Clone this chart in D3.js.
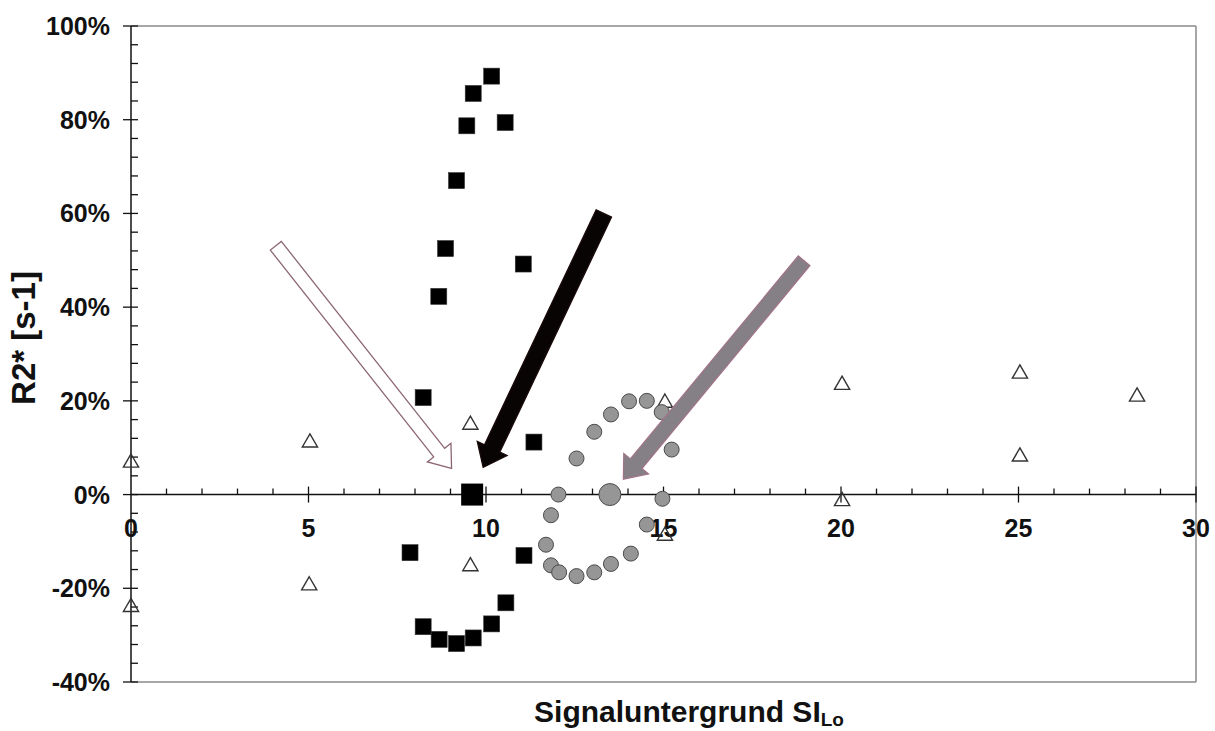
<!DOCTYPE html>
<html><head><meta charset="utf-8">
<script src="https://cdn.jsdelivr.net/npm/d3@7/dist/d3.min.js"></script>
<style>
body{margin:0;background:#fff;}
text{font-family:"Liberation Sans",Arial,sans-serif;font-weight:bold;fill:#111;}
</style></head>
<body><svg id="c" width="1215" height="731"></svg>
<script>
// ---- data ----
const triX = [0, 0, 5.04, 5.02, 9.56, 9.56, 15.04, 15.04, 20.03, 20.03, 25.04, 25.04, 28.34];
const triY = [7.0, -23.8, 11.3, -19.2, 15.1, -15.1, 19.8, -8.6, 23.6, -1.2, 26.0, 8.3, 21.1];

const sqX = [8.23, 8.67, 8.86, 9.17, 9.46, 9.64, 10.16, 10.54, 11.05, 11.35, 7.86, 8.23, 8.68, 9.17, 9.64, 10.16, 10.56, 11.07];
const sqY = [20.7, 42.3, 52.5, 67.0, 78.7, 85.6, 89.3, 79.4, 49.2, 11.2, -12.4, -28.2, -30.9, -31.8, -30.6, -27.6, -23.1, -13.0];
const sqBig = [9.61, 0];

const ciX = [12.04, 11.83, 11.69, 11.83, 12.06, 12.55, 13.05, 13.52, 14.08, 14.53, 14.97, 12.55, 13.05, 13.52, 14.03, 14.53, 14.95, 15.23];
const ciY = [0, -4.4, -10.7, -15.1, -16.6, -17.4, -16.6, -14.8, -12.6, -6.4, -0.9, 7.7, 13.4, 17.1, 19.9, 20.0, 17.6, 9.6];
const ciBig = [13.49, 0];

// arrows: tail (x,y) -> tip (x,y) in data units
const arrowTail = [[4.08, 53.1], [13.32, 60.0], [18.96, 49.9]];
const arrowTip  = [[9.03, 5.6], [9.92, 5.8], [13.87, 3.3]];

const xTicks = [0, 5, 10, 15, 20, 25, 30];
const yTicks = [-40, -20, 0, 20, 40, 60, 80, 100];

// ---- layout ----
const svg = d3.select("#c");
const x = d3.scaleLinear().domain([0, 30]).range([131, 1196]);
const y = d3.scaleLinear().domain([-40, 100]).range([682, 26]);

// frame
svg.append("line").attr("x1", x(0)).attr("x2", x(30)).attr("y1", y(100)).attr("y2", y(100)).attr("stroke", "#8a8a8a").attr("stroke-width", 1.5);
svg.append("line").attr("x1", x(30)).attr("x2", x(30)).attr("y1", y(100)).attr("y2", y(-40)).attr("stroke", "#8a8a8a").attr("stroke-width", 1.5);
svg.append("line").attr("x1", x(0)).attr("x2", x(30)).attr("y1", y(-40)).attr("y2", y(-40)).attr("stroke", "#8a8a8a").attr("stroke-width", 1.5);

// y axis
const gy = svg.append("g").attr("transform", `translate(${x(0)},0)`);
gy.append("line").attr("y1", y(-40)).attr("y2", y(100)).attr("stroke", "#111").attr("stroke-width", 1.5);
d3.range(-40, 100.1, 4).forEach(v => {
  const major = Math.abs(v % 20) < 1e-9;
  gy.append("line").attr("x1", major ? -8 : 0).attr("x2", 7).attr("y1", y(v)).attr("y2", y(v)).attr("stroke", "#111").attr("stroke-width", 1.3);
});
gy.selectAll("text.yt").data(yTicks).enter().append("text")
  .attr("x", -21).attr("y", d => y(d) + 9).attr("text-anchor", "end").attr("font-size", 25)
  .text(d => d + "%");

// x axis at y=0
const gx = svg.append("g").attr("transform", `translate(0,${y(0)})`);
gx.append("line").attr("x1", x(0)).attr("x2", x(30)).attr("stroke", "#111").attr("stroke-width", 1.5);
d3.range(1, 30.1, 1).forEach(v => {
  const major = v % 5 === 0;
  gx.append("line").attr("x1", x(v)).attr("x2", x(v)).attr("y1", major ? -8 : -6).attr("y2", major ? 8 : 0).attr("stroke", "#111").attr("stroke-width", 1.3);
});
gx.selectAll("text.xt").data(xTicks).enter().append("text")
  .attr("x", d => x(d)).attr("y", 42).attr("text-anchor", "middle").attr("font-size", 25)
  .text(d => d);

// triangles
const triSym = d3.symbol().type(d3.symbolTriangle).size(100);
svg.append("g").selectAll("path").data(triX.map((v, i) => [v, triY[i]])).enter().append("path")
  .attr("d", triSym).attr("transform", d => `translate(${x(d[0])},${y(d[1]) + 1})`)
  .attr("fill", "none").attr("stroke", "#333").attr("stroke-width", 1.4);

// circles
const ci = ciX.map((v, i) => [v, ciY[i]]);
svg.append("g").selectAll("circle").data(ci).enter().append("circle")
  .attr("cx", d => x(d[0])).attr("cy", d => y(d[1])).attr("r", 7.5)
  .attr("fill", "#969696").attr("stroke", "#4a4a4a").attr("stroke-width", 1);
svg.append("circle").attr("cx", x(ciBig[0])).attr("cy", y(ciBig[1])).attr("r", 11)
  .attr("fill", "#969696").attr("stroke", "#4a4a4a").attr("stroke-width", 1);

// squares
const sq = sqX.map((v, i) => [v, sqY[i]]);
svg.append("g").selectAll("rect").data(sq).enter().append("rect")
  .attr("x", d => x(d[0]) - 8).attr("y", d => y(d[1]) - 8).attr("width", 16).attr("height", 16)
  .attr("fill", "#000").attr("stroke", "#333").attr("stroke-width", 0.6);
svg.append("rect").attr("x", x(sqBig[0]) - 11).attr("y", y(sqBig[1]) - 11).attr("width", 22).attr("height", 22).attr("fill", "#000");

// arrows
const arrowStyle = [
  {fill: "#ffffff", stroke: "#8c6676", sw: 14, hw: 30, hl: 20},
  {fill: "#080404", stroke: "#1a0a0a", sw: 17, hw: 33, hl: 21},
  {fill: "#858085", stroke: "#a07488", sw: 15, hw: 32, hl: 20}
];
arrowTail.forEach((t, i) => {
  const T = [x(t[0]), y(t[1])], P = [x(arrowTip[i][0]), y(arrowTip[i][1])];
  const dx = P[0] - T[0], dy = P[1] - T[1], L = Math.hypot(dx, dy);
  const u = [dx / L, dy / L], n = [-u[1], u[0]];
  const s = arrowStyle[i];
  const B = [P[0] - u[0] * s.hl, P[1] - u[1] * s.hl];
  const pts = [
    [T[0] + n[0] * s.sw / 2, T[1] + n[1] * s.sw / 2],
    [B[0] + n[0] * s.sw / 2, B[1] + n[1] * s.sw / 2],
    [B[0] + n[0] * s.hw / 2, B[1] + n[1] * s.hw / 2],
    P,
    [B[0] - n[0] * s.hw / 2, B[1] - n[1] * s.hw / 2],
    [B[0] - n[0] * s.sw / 2, B[1] - n[1] * s.sw / 2],
    [T[0] - n[0] * s.sw / 2, T[1] - n[1] * s.sw / 2]
  ];
  svg.append("path").attr("d", d3.line()(pts) + "Z")
    .attr("fill", s.fill).attr("stroke", s.stroke).attr("stroke-width", 1.3).attr("stroke-linejoin", "miter");
});

// axis titles
svg.append("text").attr("transform", "translate(35,338) rotate(-90)").attr("text-anchor", "middle").attr("font-size", 33)
  .text("R2* [s-1]");
const xt = svg.append("text").attr("x", 689).attr("y", 722).attr("text-anchor", "middle").attr("font-size", 30);
xt.append("tspan").text("Signaluntergrund SI");
xt.append("tspan").attr("font-size", 19).attr("dy", 4).text("Lo");
</script></body></html>
